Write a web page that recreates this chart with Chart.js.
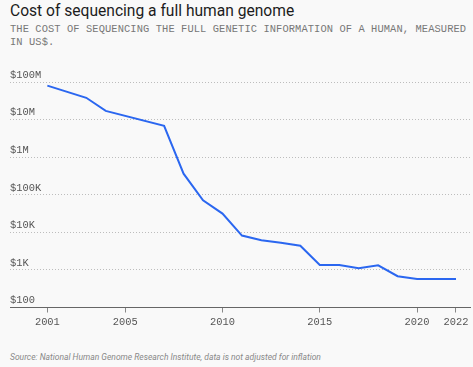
<!DOCTYPE html>
<html>
<head>
<meta charset="utf-8">
<script src="https://cdn.jsdelivr.net/npm/chart.js@4"></script>
<style>
  html, body { margin: 0; padding: 0; background: #f9f9f9; }
  body { width: 473px; height: 367px; position: relative; overflow: hidden; }
  .title { position: absolute; left: 10px; top: 2px; font: 15.6px Roboto, sans-serif; color: #1c1c1c; }
  .subtitle { position: absolute; left: 10px; top: 23px; width: 462px; font: 10.4px "Liberation Mono", monospace; line-height: 13px; color: #777; letter-spacing: 0.1px; }
  .source { position: absolute; left: 10px; top: 352px; font: italic 8.5px Roboto, sans-serif; color: #888; }
  .chart-box { position: absolute; left: 0; top: 60px; width: 473px; height: 280px; }
</style>
</head>
<body>
<div class="title">Cost of sequencing a full human genome</div>
<div class="subtitle">THE COST OF SEQUENCING THE FULL GENETIC INFORMATION OF A HUMAN, MEASURED IN US$.</div>
<div class="chart-box"><canvas id="chart"></canvas></div>
<div class="source">Source: National Human Genome Research Institute, data is not adjusted for inflation</div>

<script>
// cost per genome, US$
const years = [2001, 2003, 2004, 2007, 2008, 2009, 2010, 2011, 2012, 2013, 2014, 2015, 2016, 2017, 2018, 2019, 2020, 2022];
const costs = [80000000, 38000000, 17000000, 6800000, 364000, 71000, 31600, 8200, 6200, 5300, 4400, 1350, 1350, 1110, 1330, 680, 570, 570];

const yTickValues = [100, 1000, 10000, 100000, 1000000, 10000000, 100000000];
const yTickLabels = ['$100', '$1K', '$10K', '$100K', '$1M', '$10M', '$100M'];
const xTickValues = [2001, 2005, 2010, 2015, 2020, 2022];

const monoFont = { family: '"Liberation Mono", monospace', size: 10.4 };

const ctx = document.getElementById('chart').getContext('2d');
new Chart(ctx, {
    type: 'line',
    data: {
        datasets: [{
            data: years.map((y, i) => ({ x: y, y: costs[i] })),
            borderColor: '#2b67f0',
            borderWidth: 2,
            pointRadius: 0,
            tension: 0,
            fill: false
        }]
    },
    options: {
        responsive: true,
        maintainAspectRatio: false,
        animation: false,
        layout: { padding: { left: 10, right: 3, top: 22, bottom: 9 } },
        plugins: {
            legend: { display: false },
            tooltip: { enabled: false }
        },
        scales: {
            x: {
                type: 'linear',
                min: 1999.08,
                max: 2022.72,
                afterBuildTicks: axis => { axis.ticks = xTickValues.map(v => ({ value: v })); },
                ticks: {
                    color: '#555',
                    font: monoFont,
                    padding: 3,
                    maxRotation: 0,
                    autoSkip: false,
                    callback: v => String(v)
                },
                grid: {
                    drawOnChartArea: false,
                    drawTicks: true,
                    tickLength: 5,
                    color: '#888'
                },
                border: { display: true, color: '#666', width: 1 }
            },
            y: {
                type: 'logarithmic',
                min: 100,
                max: 100000000,
                afterBuildTicks: axis => { axis.ticks = yTickValues.map(v => ({ value: v })); },
                ticks: {
                    mirror: true,
                    padding: 0,
                    labelOffset: -7,
                    color: '#555',
                    font: monoFont,
                    autoSkip: false,
                    callback: v => yTickLabels[yTickValues.indexOf(v)]
                },
                grid: {
                    drawTicks: false,
                    color: ctx => ctx.tick && ctx.tick.value === 100 ? 'rgba(0,0,0,0)' : '#bdbdbd',
                    lineWidth: 1
                },
                border: { display: false, dash: [1, 2] }
            }
        }
    }
});
</script>
</body>
</html>
